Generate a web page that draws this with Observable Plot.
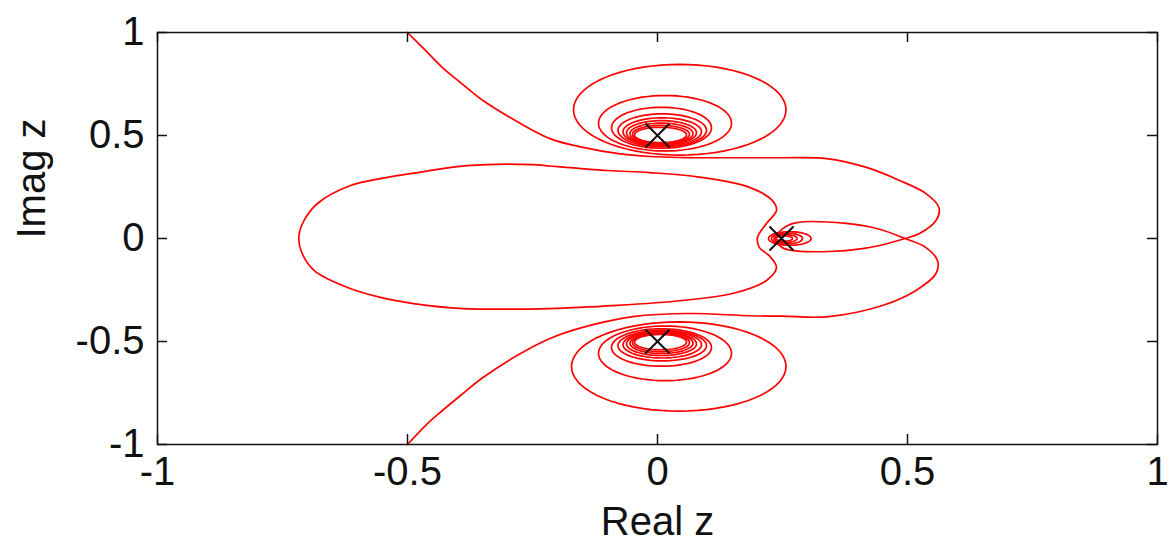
<!DOCTYPE html>
<html>
<head>
<meta charset="utf-8">
<script src="https://cdn.jsdelivr.net/npm/d3@7"></script>
<script src="https://cdn.jsdelivr.net/npm/@observablehq/plot@0.6"></script>
<style>
  html, body { margin: 0; padding: 0; background: #fff; }
  #chart { width: 1169px; height: 552px; }
</style>
</head>
<body>
<div id="chart"></div>
<script>
// ---- data ----
const xTicks = [-1, -0.5, 0, 0.5, 1];
const yTicks = [-1, -0.5, 0, 0.5, 1];
const xLabel = "Real z";
const yLabel = "Imag z";

// poles (x marks)
const poles = [[0, 0.5], [0, -0.5], [0.248, 0]];

// contour through the saddle: upper branch -> upper lobe -> inner loop -> lower lobe -> lower branch
const mainContour = [
  [-0.5, 1.0], [-0.464, 0.913], [-0.43, 0.83], [-0.394, 0.757], [-0.349, 0.67],
  [-0.281, 0.568], [-0.215, 0.485], [-0.149, 0.442], [-0.081, 0.413],
  [-0.015, 0.398], [0.05, 0.393], [0.15, 0.392], [0.25, 0.392], [0.338, 0.388],
  [0.418, 0.345], [0.484, 0.282], [0.537, 0.218], [0.563, 0.15], [0.557, 0.087],
  [0.524, 0.024], [0.495, 0.0], [0.444, -0.034], [0.41, -0.049], [0.344, -0.063],
  [0.278, -0.06], [0.25, -0.045], [0.236, 0.0], [0.25, 0.047], [0.278, 0.077],
  [0.377, 0.073], [0.444, 0.045], [0.495, 0.0], [0.537, -0.044], [0.56, -0.107],
  [0.557, -0.17], [0.517, -0.252], [0.45, -0.325], [0.338, -0.38], [0.25, -0.377],
  [0.184, -0.375], [0.064, -0.364], [-0.049, -0.379], [-0.135, -0.422], [-0.215, -0.485],
  [-0.281, -0.568], [-0.349, -0.675], [-0.394, -0.762], [-0.43, -0.835], [-0.464, -0.908],
  [-0.5, -1.0]
];

// large closed contour on the left
const bigLoop = [
  [-0.48, 0.32], [-0.381, 0.354], [-0.248, 0.359], [-0.215, 0.352], [-0.1, 0.33],
  [-0.015, 0.32], [0.084, 0.298], [0.184, 0.248], [0.23, 0.184], [0.238, 0.136],
  [0.218, 0.073], [0.2, 0.005], [0.204, -0.044], [0.224, -0.085], [0.238, -0.141],
  [0.218, -0.204], [0.15, -0.267], [0.05, -0.301], [-0.081, -0.325], [-0.215, -0.34],
  [-0.388, -0.34], [-0.488, -0.316], [-0.554, -0.286], [-0.62, -0.238], [-0.687, -0.155],
  [-0.713, -0.058], [-0.717, 0.015], [-0.707, 0.087], [-0.68, 0.17], [-0.614, 0.257],
  [-0.554, 0.291], [-0.48, 0.32]
];

// closed level curves around the poles: [xmin, xmax, ymin, ymax]
const ringsUpper = [
  [-0.168, 0.257, 0.405, 0.845],
  [-0.118, 0.148, 0.425, 0.694],
  [-0.092, 0.108, 0.438, 0.637],
  [-0.079, 0.098, 0.445, 0.605],
  [-0.069, 0.088, 0.45, 0.586],
  [-0.062, 0.078, 0.455, 0.572],
  [-0.055, 0.071, 0.459, 0.56],
  [-0.05, 0.064, 0.463, 0.549],
  [-0.046, 0.058, 0.466, 0.54]
];
const ringsLower = [
  [-0.172, 0.257, -0.838, -0.405],
  [-0.118, 0.148, -0.69, -0.425],
  [-0.092, 0.108, -0.62, -0.438],
  [-0.079, 0.098, -0.594, -0.446],
  [-0.069, 0.088, -0.58, -0.451],
  [-0.062, 0.078, -0.568, -0.455],
  [-0.055, 0.071, -0.558, -0.459],
  [-0.05, 0.064, -0.549, -0.463],
  [-0.046, 0.058, -0.54, -0.466]
];
const ringsMid = [
  [0.222, 0.307, -0.033, 0.033],
  [0.228, 0.29, -0.026, 0.026],
  [0.233, 0.279, -0.019, 0.019],
  [0.237, 0.27, -0.013, 0.013]
];

// ---- build tables ----
const toRows = (pts, id) => pts.map(([x, y]) => ({x, y, id}));
function ringRows(ext, id) {
  const [x0, x1, y0, y1] = ext;
  const cx = (x0 + x1) / 2, cy = (y0 + y1) / 2, rx = (x1 - x0) / 2, ry = (y1 - y0) / 2;
  return d3.range(0, 73).map(i => {
    const t = i * Math.PI / 36;
    return {x: cx + rx * Math.cos(t), y: cy + ry * Math.sin(t), id};
  });
}
const ringData = [
  ...ringsUpper.flatMap((e, i) => ringRows(e, "u" + i)),
  ...ringsLower.flatMap((e, i) => ringRows(e, "l" + i)),
  ...ringsMid.flatMap((e, i) => ringRows(e, "m" + i))
];
const contourData = [...toRows(mainContour, "main"), ...toRows(bigLoop, "loop")];
const poleData = poles.map(([x, y]) => ({x, y}));

const FONT = "'Liberation Sans', Arial, sans-serif";
const red = "#ff0000";
const ink = "#111";
const W = 1169, H = 552, ML = 157, MR = 12, MT = 32, MB = 108;
const frameW = W - ML - MR, frameH = H - MT - MB;
// inward tick length (10 px) expressed in data units of each axis
const tx = 10 * 2 / frameH, ty = 10 * 2 / frameW;

const chart = Plot.plot({
  width: W,
  height: H,
  marginLeft: ML,
  marginRight: MR,
  marginTop: MT,
  marginBottom: MB,
  style: {fontFamily: FONT, fontSize: "40px", color: ink, background: "#fff"},
  x: {domain: [-1, 1]},
  y: {domain: [-1, 1]},
  marks: [
    Plot.line(ringData, {x: "x", y: "y", z: "id", stroke: red, strokeWidth: 1.7, curve: "linear"}),
    Plot.line(contourData, {x: "x", y: "y", z: "id", stroke: red, strokeWidth: 1.7, curve: "catmull-rom"}),
    Plot.dot(poleData, {x: "x", y: "y", symbol: "times", r: 11, stroke: ink, strokeWidth: 2}),
    // inward tick marks on all four sides
    Plot.ruleX(xTicks, {x: d => d, y1: -1, y2: -1 + tx, stroke: ink, strokeWidth: 1.5}),
    Plot.ruleX(xTicks, {x: d => d, y1: 1, y2: 1 - tx, stroke: ink, strokeWidth: 1.5}),
    Plot.ruleY(yTicks, {y: d => d, x1: -1, x2: -1 + ty, stroke: ink, strokeWidth: 1.5}),
    Plot.ruleY(yTicks, {y: d => d, x1: 1, x2: 1 - ty, stroke: ink, strokeWidth: 1.5}),
    Plot.frame({stroke: ink, strokeWidth: 1.5}),
    // tick labels
    Plot.axisX({anchor: "bottom", ticks: xTicks, tickSize: 0, tickPadding: 12, fontSize: 40, label: null, tickFormat: d => String(d)}),
    Plot.axisY({anchor: "left", ticks: yTicks, tickSize: 0, tickPadding: 13, fontSize: 40, label: null, tickFormat: d => String(d)}),
    // axis titles
    Plot.text([xLabel], {frameAnchor: "bottom", dy: 90, fontSize: 40, fill: ink}),
    Plot.text([yLabel], {frameAnchor: "left", dx: -125, rotate: -90, fontSize: 40, fill: ink})
  ]
});
document.getElementById("chart").appendChild(chart);
</script>
</body>
</html>
